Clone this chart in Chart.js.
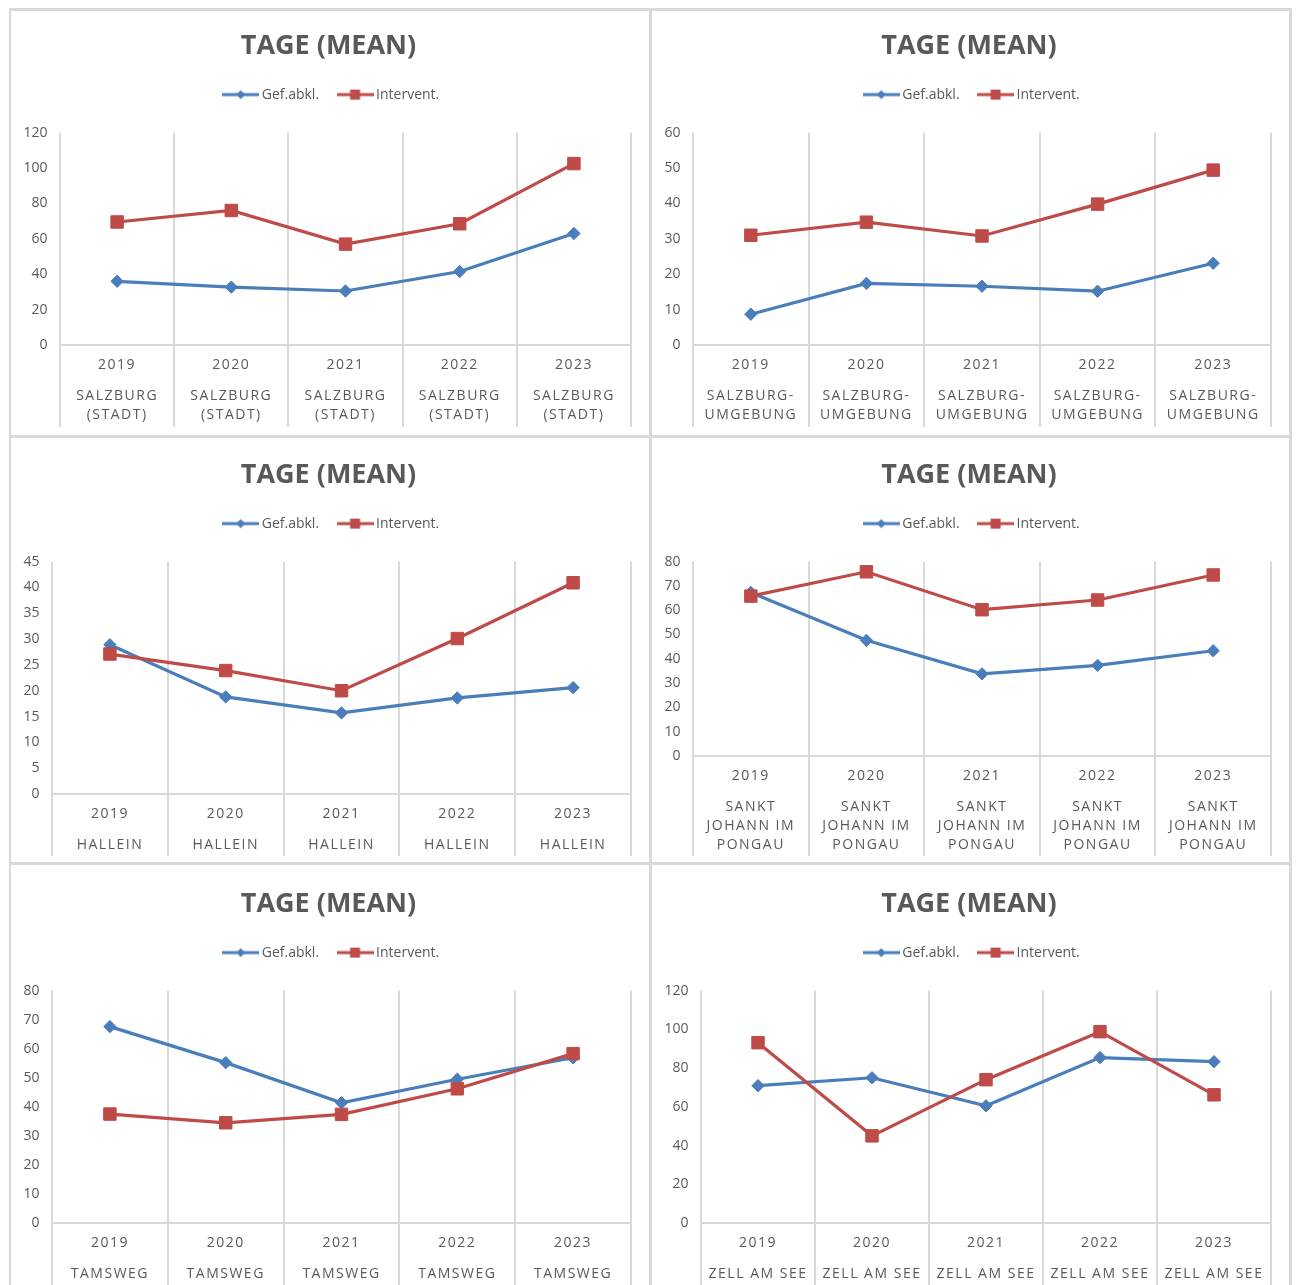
<!DOCTYPE html>
<html>
<head>
<meta charset="utf-8">
<script src="https://cdn.jsdelivr.net/npm/chart.js@4.4.1/dist/chart.umd.min.js"></script>
<style>
  html, body { margin: 0; padding: 0; background: #fff; width: 1296px; height: 1285px; overflow: hidden; }
  .rule { position: absolute; background: #d9d9d9; }
  .panel { position: absolute; }
</style>
</head>
<body>
<div class="rule" style="left:9px;top:8px;width:1283px;height:3px"></div>
<div class="rule" style="left:9px;top:435px;width:1283px;height:3px"></div>
<div class="rule" style="left:9px;top:862px;width:1283px;height:3px"></div>
<div class="rule" style="left:9px;top:8px;width:2px;height:1277px"></div>
<div class="rule" style="left:649px;top:8px;width:3px;height:1277px"></div>
<div class="rule" style="left:1289px;top:8px;width:3px;height:1277px"></div>
<div id="charts"></div>
<script>
// Chart data
const years = ["2019", "2020", "2021", "2022", "2023"];
const seriesNames = ["Gef.abkl.", "Intervent."];

const regionSalzburgStadt = ["SALZBURG", "(STADT)"];
const regionUmgebung = ["SALZBURG-", "UMGEBUNG"];
const regionHallein = ["HALLEIN"];
const regionPongau = ["SANKT", "JOHANN IM", "PONGAU"];
const regionTamsweg = ["TAMSWEG"];
const regionZell = ["ZELL AM SEE"];

const gefSalzburgStadt = [36, 32.7, 30.5, 41.5, 63];
const intSalzburgStadt = [69.5, 76, 57, 68.5, 102.5];
const gefUmgebung = [8.7, 17.4, 16.6, 15.2, 23.1];
const intUmgebung = [31, 34.7, 30.8, 39.8, 49.4];
const gefHallein = [28.9, 18.8, 15.7, 18.6, 20.6];
const intHallein = [27.1, 23.9, 20, 30.1, 40.9];
const gefPongau = [67.3, 47.6, 33.8, 37.3, 43.3];
const intPongau = [65.8, 75.8, 60.2, 64.2, 74.5];
const gefTamsweg = [67.6, 55.2, 41.4, 49.5, 56.9];
const intTamsweg = [37.5, 34.5, 37.4, 46.2, 58.3];
const gefZell = [70.9, 75, 60.5, 85.4, 83.3];
const intZell = [93.1, 45, 74, 98.8, 66.2];

// y-axis max / step per chart
const yMax = [120, 60, 45, 80, 80, 120];
const yStep = [20, 10, 5, 10, 10, 20];

const BLUE = "#4a7ebb";
const RED = "#be4b48";
const GRID = "#d9d9d9";
const TEXT = "#595959";
const FONT = "'Open Sans', sans-serif";

// Category scale with letter-spaced labels (like the Excel original)
class SpacedCategoryScale extends Chart.CategoryScale {
  drawLabels(chartArea) {
    const ctx = this.ctx;
    ctx.save();
    ctx.letterSpacing = "1.5px";
    super.drawLabels(chartArea);
    ctx.restore();
  }
}
SpacedCategoryScale.id = "spacedCategory";
SpacedCategoryScale.defaults = Chart.CategoryScale.defaults;
Chart.register(SpacedCategoryScale);

// Legend icon: line with the marker in the middle
const makeLegendIcon = (color, shape) => {
  const c = document.createElement("canvas");
  c.width = 37;
  c.height = 12;
  const ctx = c.getContext("2d");
  ctx.fillStyle = color;
  ctx.fillRect(0, 4.5, 37, 3);
  if (shape === "diamond") {
    ctx.beginPath();
    ctx.moveTo(18.5, 1.5);
    ctx.lineTo(23, 6);
    ctx.lineTo(18.5, 10.5);
    ctx.lineTo(14, 6);
    ctx.closePath();
    ctx.fill();
  } else {
    ctx.fillRect(13.5, 1, 10, 10);
  }
  return c;
};
const legendIcons = [makeLegendIcon(BLUE, "diamond"), makeLegendIcon(RED, "square")];

// Extra space between legend and plot area, and centre title/legend in the panel
const headerLayout = {
  id: "headerLayout",
  beforeInit(chart) {
    const originalFit = chart.legend.fit;
    chart.legend.fit = function fit() {
      originalFit.bind(chart.legend)();
      this.height += 21;
    };
  },
  afterLayout(chart) {
    chart.titleBlock.left = 15;
    chart.titleBlock.right = chart.width - 18;
    chart.legend.left = 24;
    chart.legend.right = chart.width - 18;
  },
};

const panels = [
  { gef: gefSalzburgStadt, int: intSalzburgStadt, region: regionSalzburgStadt, labelArea: 82 },
  { gef: gefUmgebung, int: intUmgebung, region: regionUmgebung, labelArea: 82 },
  { gef: gefHallein, int: intHallein, region: regionHallein, labelArea: 62 },
  { gef: gefPongau, int: intPongau, region: regionPongau, labelArea: 100 },
  { gef: gefTamsweg, int: intTamsweg, region: regionTamsweg, labelArea: 62 },
  { gef: gefZell, int: intZell, region: regionZell, labelArea: 62 },
];

const colLeft = [11, 652];
const colWidth = [638, 637];
const rowTop = [9, 438, 867];
const PANEL_H = 424;

const buildChart = (panel, i) => {
  const col = i % 2;
  const row = Math.floor(i / 2);
  const holder = document.createElement("div");
  holder.className = "panel";
  holder.style.left = colLeft[col] + "px";
  holder.style.top = rowTop[row] + "px";
  const canvas = document.createElement("canvas");
  canvas.width = colWidth[col];
  canvas.height = PANEL_H;
  holder.appendChild(canvas);
  document.getElementById("charts").appendChild(holder);

  const la = panel.labelArea;
  new Chart(canvas.getContext("2d"), {
    type: "line",
    data: {
      labels: years,
      datasets: [
        {
          label: seriesNames[0],
          data: panel.gef,
          borderColor: BLUE,
          backgroundColor: BLUE,
          borderWidth: 3.2,
          pointStyle: "rectRot",
          pointRadius: 6.2,
          pointHoverRadius: 6.2,
          pointBorderWidth: 1,
          tension: 0,
          order: 1,
        },
        {
          label: seriesNames[1],
          data: panel.int,
          borderColor: RED,
          backgroundColor: RED,
          borderWidth: 3.2,
          pointStyle: "rect",
          pointRadius: 8.8,
          pointHoverRadius: 8.8,
          pointBorderWidth: 1,
          tension: 0,
          order: 0,
        },
      ],
    },
    options: {
      responsive: false,
      animation: false,
      layout: { padding: { top: 0, left: 0, right: 18, bottom: 6 } },
      plugins: {
        title: {
          display: true,
          text: "TAGE (MEAN)",
          color: TEXT,
          font: { family: FONT, size: 27, weight: "bold", lineHeight: 1.2 },
          padding: { top: 20.8, bottom: 3.4 },
        },
        legend: {
          position: "top",
          labels: {
            usePointStyle: true,
            pointStyleWidth: 28,
            boxHeight: 14,
            padding: 22,
            color: TEXT,
            font: { family: FONT, size: 14 },
            generateLabels: (chart) =>
              chart.data.datasets.map((ds, idx) => ({
                text: ds.label,
                pointStyle: legendIcons[idx],
                fillStyle: ds.borderColor,
                strokeStyle: ds.borderColor,
                lineWidth: 0,
                hidden: false,
                fontColor: TEXT,
                datasetIndex: idx,
              })),
          },
        },
        tooltip: { enabled: false },
      },
      scales: {
        x: {
          type: "spacedCategory",
          offset: true,
          grid: {
            display: true,
            offset: true,
            color: GRID,
            lineWidth: 2,
            drawTicks: true,
            tickLength: la,
            tickColor: GRID,
            tickWidth: 2,
          },
          border: { display: true, color: GRID, width: 2 },
          ticks: {
            autoSkip: false,
            maxRotation: 0,
            color: TEXT,
            font: { family: FONT, size: 14, lineHeight: 1.2 },
            padding: 11.6 - la,
          },
          afterFit: (scale) => {
            scale.height = 30;
          },
        },
        x2: {
          type: "spacedCategory",
          position: "bottom",
          labels: years.map(() => panel.region),
          offset: true,
          grid: { display: false, drawTicks: false },
          border: { display: false },
          ticks: {
            autoSkip: false,
            maxRotation: 0,
            color: TEXT,
            font: { family: FONT, size: 14, lineHeight: "19px" },
            padding: 11.5,
          },
          afterFit: (scale) => {
            scale.height = la - 30;
          },
        },
        y: {
          min: 0,
          max: yMax[i],
          ticks: {
            stepSize: yStep[i],
            color: TEXT,
            font: { family: FONT, size: 14 },
            padding: 12.5,
          },
          grid: { display: false, drawTicks: false },
          border: { display: false },
        },
      },
    },
    plugins: [headerLayout],
  });
};

document.addEventListener("DOMContentLoaded", () => {
  panels.forEach(buildChart);
});
</script>
</body>
</html>
